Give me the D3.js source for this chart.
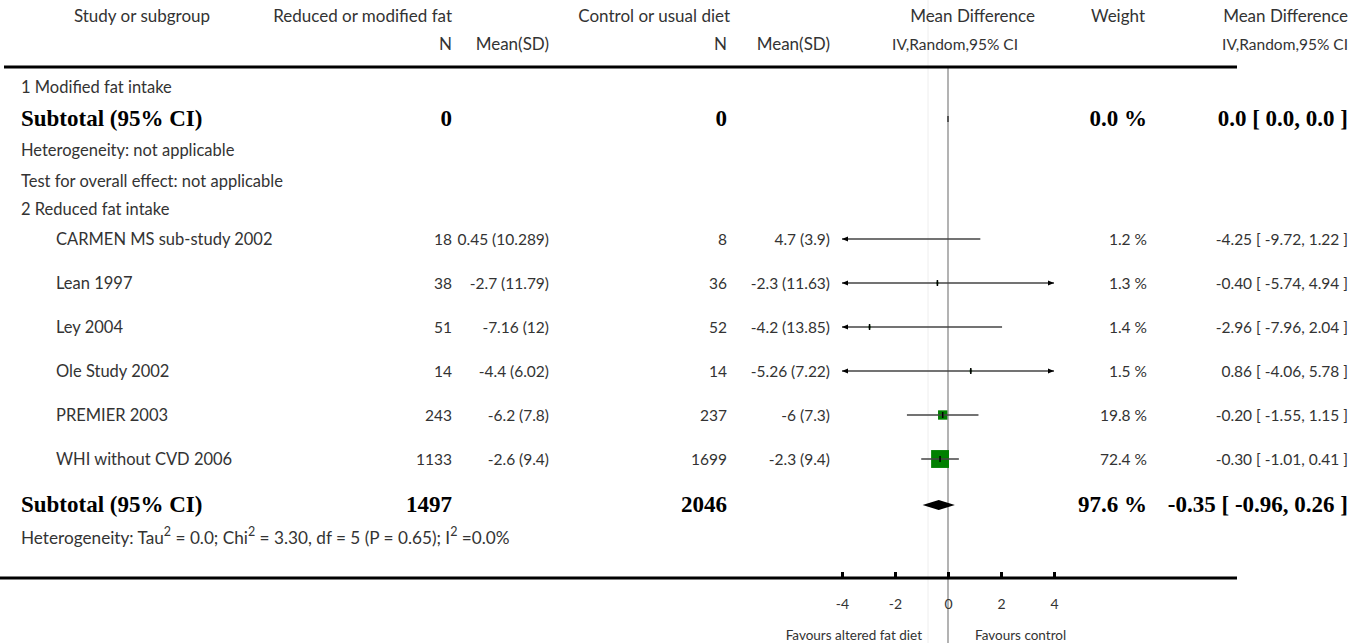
<!DOCTYPE html>
<html>
<head>
<meta charset="utf-8">
<script src="https://cdn.jsdelivr.net/npm/d3@7"></script>
<style>
  html, body { margin: 0; padding: 0; background: #fff; }
  svg { display: block; }
  .t { font-family: Lato, "Open Sans", sans-serif; font-size: 15.5px; fill: #333; }
  .l { font-family: Lato, "Open Sans", sans-serif; font-size: 16.5px; fill: #333; }
  .h { font-family: Lato, "Open Sans", sans-serif; font-size: 17px; fill: #333; }
  .b { font-family: "Liberation Serif", "DejaVu Serif", serif; font-size: 23px; font-weight: bold; fill: #000; }
</style>
</head>
<body>
<svg id="chart" width="1362" height="643"></svg>
<script>
// ---------- data ----------
const studies = ["CARMEN MS sub-study 2002", "Lean 1997", "Ley 2004", "Ole Study 2002", "PREMIER 2003", "WHI without CVD 2006"];
const expN = [18, 38, 51, 14, 243, 1133];
const expMean = [0.45, -2.7, -7.16, -4.4, -6.2, -2.6];
const expSD = [10.289, 11.79, 12, 6.02, 7.8, 9.4];
const ctrlN = [8, 36, 52, 14, 237, 1699];
const ctrlMean = [4.7, -2.3, -4.2, -5.26, -6, -2.3];
const ctrlSD = [3.9, 11.63, 13.85, 7.22, 7.3, 9.4];
const md = [-4.25, -0.40, -2.96, 0.86, -0.20, -0.30];
const ciLow = [-9.72, -5.74, -7.96, -4.06, -1.55, -1.01];
const ciHigh = [1.22, 4.94, 2.04, 5.78, 1.15, 0.41];
const weights = [1.2, 1.3, 1.4, 1.5, 19.8, 72.4];

const subgroup1 = { label: "1 Modified fat intake", expN: 0, ctrlN: 0, weight: "0.0 %", ci: "0.0 [ 0.0, 0.0 ]", md: 0 };
const subgroup2 = { label: "2 Reduced fat intake", expN: 1497, ctrlN: 2046, weight: 97.6, md: -0.35, lo: -0.96, hi: 0.26 };
const axisTicks = [-4, -2, 0, 2, 4];
const axisDomain = [-4, 4];

// ---------- layout ----------
const svg = d3.select("#chart");
const x = d3.scaleLinear().domain(axisDomain).range([842, 1054]);
const x0 = x(0);

const left = 21;
const col = { study: 56, expN: 452, expMS: 549, ctrlN: 727, ctrlMS: 830, weight: 1147, ci: 1348 };

function txt(cls, xx, yy, s, anchor) {
  return svg.append("text").attr("class", cls).attr("x", xx).attr("y", yy)
    .attr("dominant-baseline", "middle").attr("text-anchor", anchor || "start").text(s);
}

// faint line and zero line
svg.append("line").attr("x1", 928).attr("x2", 928).attr("y1", 0).attr("y2", 643)
  .attr("stroke", "#eeeeee").attr("stroke-width", 1);
svg.append("line").attr("x1", x0).attr("x2", x0).attr("y1", 68).attr("y2", 643)
  .attr("stroke", "#b3b3b3").attr("stroke-width", 2);

// header
txt("h", 142, 18, "Study or subgroup", "middle");
txt("h", col.expN, 18, "Reduced or modified fat", "end");
txt("h", col.ctrlN + 3, 18, "Control or usual diet", "end");
txt("h", 1035, 18, "Mean Difference", "end");
txt("h", 1145, 18, "Weight", "end");
txt("h", 1348, 18, "Mean Difference", "end");
txt("h", col.expN, 46, "N", "end");
txt("h", col.expMS, 46, "Mean(SD)", "end");
txt("h", col.ctrlN, 46, "N", "end");
txt("h", col.ctrlMS, 46, "Mean(SD)", "end");
txt("t", 1018, 46, "IV,Random,95% CI", "end");
txt("t", 1348, 46, "IV,Random,95% CI", "end");
svg.append("line").attr("x1", 4).attr("x2", 1237).attr("y1", 67).attr("y2", 67)
  .attr("stroke", "#000").attr("stroke-width", 3);

// subgroup 1
txt("l", left, 89, subgroup1.label);
txt("b", left, 121, "Subtotal (95% CI)");
txt("b", col.expN, 121, subgroup1.expN, "end");
txt("b", col.ctrlN, 121, subgroup1.ctrlN, "end");
txt("b", col.weight, 121, subgroup1.weight, "end");
txt("b", col.ci, 121, subgroup1.ci, "end");
svg.append("line").attr("x1", x(subgroup1.md)).attr("x2", x(subgroup1.md)).attr("y1", 116).attr("y2", 122)
  .attr("stroke", "#555").attr("stroke-width", 2);
txt("l", left, 152, "Heterogeneity: not applicable");
txt("l", left, 183, "Test for overall effect: not applicable");

// subgroup 2
txt("l", left, 211, subgroup2.label);
const rowY = [239, 283, 327, 371, 415, 459];
const lineColor = "#444";

studies.forEach((s, i) => {
  const cy = rowY[i];
  const ty = cy + 2;
  txt("l", col.study, ty, s);
  txt("t", col.expN, ty, expN[i], "end");
  txt("t", col.expMS, ty, `${expMean[i]} (${expSD[i]})`, "end");
  txt("t", col.ctrlN, ty, ctrlN[i], "end");
  txt("t", col.ctrlMS, ty, `${ctrlMean[i]} (${ctrlSD[i]})`, "end");
  txt("t", col.weight, ty, weights[i].toFixed(1) + " %", "end");
  const ciStr = (md[i] >= 0 ? " " : "") + md[i].toFixed(2) + " [ " + ciLow[i].toFixed(2) + ", " + ciHigh[i].toFixed(2) + " ]";
  txt("t", col.ci, ty, ciStr, "end");

  const inRange = md[i] >= axisDomain[0] && md[i] <= axisDomain[1];
  const size = 2.1 * Math.sqrt(weights[i]);
  if (inRange) {
    svg.append("rect").attr("x", x(md[i]) - size / 2).attr("y", cy - size / 2)
      .attr("width", size).attr("height", size).attr("fill", "#008000");
  }
  const lo = Math.max(ciLow[i], axisDomain[0]);
  const hi = Math.min(ciHigh[i], axisDomain[1]);
  svg.append("line").attr("x1", x(lo)).attr("x2", x(hi)).attr("y1", cy).attr("y2", cy)
    .attr("stroke", lineColor).attr("stroke-width", 1.5);
  if (ciLow[i] < axisDomain[0]) {
    const ax = x(axisDomain[0]);
    svg.append("path").attr("d", `M${ax},${cy} L${ax + 6},${cy - 2.5} L${ax + 6},${cy + 2.5} Z`).attr("fill", "#000");
  }
  if (ciHigh[i] > axisDomain[1]) {
    const ax = x(axisDomain[1]);
    svg.append("path").attr("d", `M${ax},${cy} L${ax - 6},${cy - 2.5} L${ax - 6},${cy + 2.5} Z`).attr("fill", "#000");
  }
  if (inRange) {
    svg.append("line").attr("x1", x(md[i])).attr("x2", x(md[i])).attr("y1", cy - 3).attr("y2", cy + 3)
      .attr("stroke", "#000").attr("stroke-width", 1.5);
  }
});

// subtotal 2
const sy = 507;
txt("b", left, sy, "Subtotal (95% CI)");
txt("b", col.expN, sy, subgroup2.expN, "end");
txt("b", col.ctrlN, sy, subgroup2.ctrlN, "end");
txt("b", col.weight, sy, subgroup2.weight.toFixed(1) + " %", "end");
txt("b", col.ci, sy, subgroup2.md.toFixed(2) + " [ " + subgroup2.lo.toFixed(2) + ", " + subgroup2.hi.toFixed(2) + " ]", "end");
const dy = sy - 2;
svg.append("path")
  .attr("d", `M${x(subgroup2.lo)},${dy} L${x(subgroup2.md)},${dy - 5} L${x(subgroup2.hi)},${dy} L${x(subgroup2.md)},${dy + 5} Z`)
  .attr("fill", "#000");

// heterogeneity with superscripts
const het = svg.append("text").attr("class", "l").attr("x", left).attr("y", 540)
  .attr("dominant-baseline", "middle").style("font-size", "17.2px");
const parts = [["Heterogeneity: Tau", false], ["2", true], [" = 0.0; Chi", false], ["2", true],
  [" = 3.30, df = 5 (P = 0.65); I", false], ["2", true], [" =0.0%", false]];
parts.forEach(([s, sup]) => {
  het.append("tspan").attr("baseline-shift", sup ? "super" : null)
    .style("font-size", sup ? "12.5px" : null).text(s);
});

// axis
const axisY = 578;
svg.append("line").attr("x1", 0).attr("x2", 1237).attr("y1", axisY).attr("y2", axisY)
  .attr("stroke", "#000").attr("stroke-width", 3);
const g = svg.append("g").attr("transform", `translate(0,${axisY})`);
const axis = d3.axisTop(x).tickValues(axisTicks).tickSize(6).tickFormat(d => String(d));
g.call(axis);
g.select(".domain").remove();
g.selectAll(".tick line").attr("stroke", "#000").attr("stroke-width", 3);
g.selectAll(".tick text").attr("class", "t").attr("y", 27).attr("dy", 0)
  .attr("dominant-baseline", "middle").style("font-size", "14px");

txt("t", x0 - 26, 637, "Favours altered fat diet", "end").style("font-size", "13.5px");
txt("t", x0 + 27, 637, "Favours control", "start").style("font-size", "13.5px");
</script>
</body>
</html>
